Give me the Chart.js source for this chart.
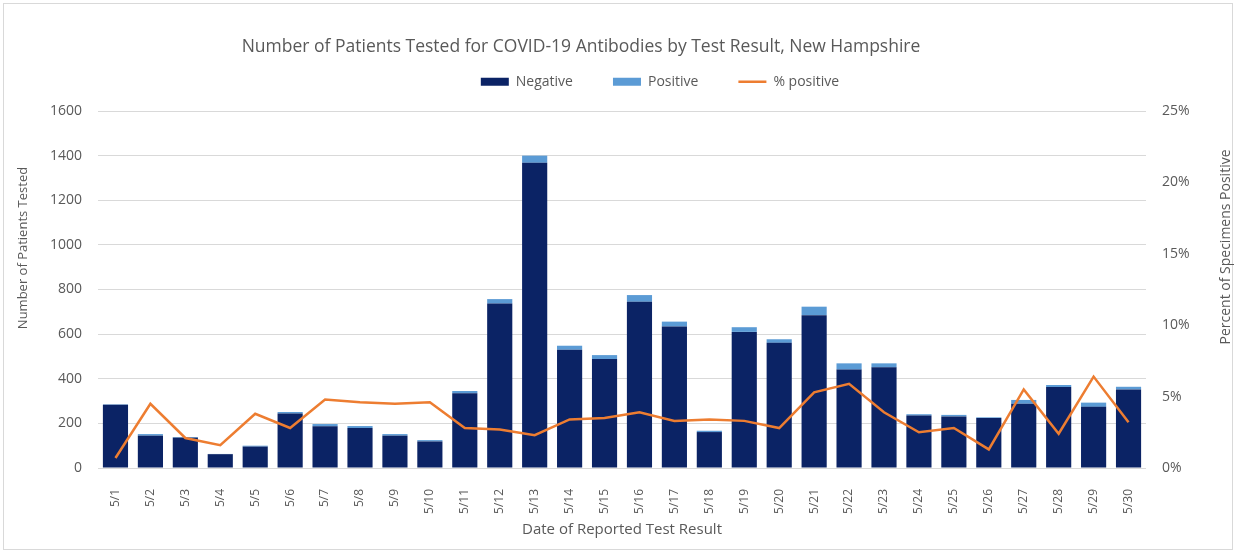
<!DOCTYPE html>
<html><head><meta charset="utf-8">
<script src="https://cdn.jsdelivr.net/npm/chart.js@4.4.1/dist/chart.umd.min.js"></script>
<style>html,body{margin:0;padding:0;background:#fff;} canvas{display:block;}</style>
</head><body>
<canvas id="c" width="1236" height="552"></canvas>
<script>
const categories = ['5/1','5/2','5/3','5/4','5/5','5/6','5/7','5/8','5/9','5/10','5/11','5/12','5/13','5/14','5/15','5/16','5/17','5/18','5/19','5/20','5/21','5/22','5/23','5/24','5/25','5/26','5/27','5/28','5/29','5/30'];
const negativeCounts = [283,145,136,62,96,244,187,179,145,119,335,737,1368,530,488,745,634,161,610,561,685,441,451,235,231,224,288,363,274,352];
const positiveCounts = [2,7,3,1,4,7,10,9,7,6,10,20,32,18,18,30,22,6,21,16,38,28,18,6,7,3,17,9,19,12];
const percentPositive = [0.7,4.5,2.1,1.6,3.8,2.8,4.8,4.6,4.5,4.6,2.8,2.7,2.3,3.4,3.5,3.9,3.3,3.4,3.3,2.8,5.3,5.9,3.9,2.5,2.8,1.3,5.5,2.4,6.4,3.2];

const chartTitle = 'Number of Patients Tested for COVID-19 Antibodies by Test Result, New Hampshire';
const leftAxisTitle = 'Number of Patients Tested';
const rightAxisTitle = 'Percent of Specimens Positive';
const bottomAxisTitle = 'Date of Reported Test Result';

const TEXT = '#595959';
const FONT = "'Open Sans', sans-serif";

const decor = {
  id: 'decor',
  afterLayout(chart) {
    const t = chart.titleBlock;
    if (t) { t.left -= 37; t.right -= 37; }
    const l = chart.legend;
    if (l) { l.top -= 12.3; l.bottom -= 12.3; l.left += 42; l.right += 42; }
  },
  afterDraw(chart) {
    const ctx = chart.ctx;
    ctx.save();
    ctx.strokeStyle = '#d9d9d9';
    ctx.lineWidth = 1;
    ctx.strokeRect(3.5, 3.5, 1229, 546);
    ctx.fillStyle = TEXT;
    ctx.textAlign = 'center';
    ctx.textBaseline = 'middle';
    ctx.save();
    ctx.font = '13px ' + FONT;
    ctx.translate(23, 248);
    ctx.rotate(-Math.PI / 2);
    ctx.fillText(leftAxisTitle, 0, 0);
    ctx.restore();
    ctx.save();
    ctx.font = '14px ' + FONT;
    ctx.translate(1226, 247);
    ctx.rotate(-Math.PI / 2);
    ctx.fillText(rightAxisTitle, 0, 0);
    ctx.restore();
    ctx.restore();
  }
};

new Chart(document.getElementById('c'), {
  data: {
    labels: categories,
    datasets: [
      { type: 'bar', label: 'Negative', data: negativeCounts, backgroundColor: '#0b2365', yAxisID: 'y', stack: 's', order: 1, pointStyle: 'rect', barPercentage: 0.72, categoryPercentage: 1 },
      { type: 'bar', label: 'Positive', data: positiveCounts, backgroundColor: '#5b9bd5', yAxisID: 'y', stack: 's', order: 1, pointStyle: 'rect', barPercentage: 0.72, categoryPercentage: 1 },
      { type: 'line', label: '% positive', data: percentPositive, borderColor: '#ed7d31', backgroundColor: '#ed7d31', borderWidth: 2.5, pointRadius: 0, tension: 0, yAxisID: 'y2', order: 0, pointStyle: 'line' }
    ]
  },
  options: {
    responsive: false,
    devicePixelRatio: 1,
    animation: false,
    layout: { padding: 0 },
    plugins: {
      tooltip: { enabled: false },
      title: { display: true, text: chartTitle, color: TEXT, font: { family: FONT, size: 17.5, weight: 'normal' }, padding: { top: 36.5, bottom: -10.5 } },
      legend: {
        display: true,
        labels: {
          color: TEXT, font: { family: FONT, size: 14 }, usePointStyle: true, pointStyleWidth: 28, boxHeight: 8, padding: 40,
          sort: (a, b) => a.datasetIndex - b.datasetIndex
        }
      }
    },
    scales: {
      x: {
        stacked: true,
        grid: { display: false },
        border: { display: false },
        ticks: { color: TEXT, font: { family: FONT, size: 12 }, autoSkip: false, minRotation: 90, maxRotation: 90, padding: 13 },
        title: { display: true, text: bottomAxisTitle, color: TEXT, font: { family: FONT, size: 15 }, padding: { top: 0, bottom: 13 } },
        afterFit: (s) => { s.height = 84; }
      },
      y: {
        stacked: true,
        position: 'left',
        min: 0, max: 1600,
        grid: { color: '#d9d9d9', drawTicks: false },
        border: { display: false },
        ticks: { stepSize: 200, color: TEXT, font: { family: FONT, size: 14 }, padding: 16, callback: (v) => String(v) },
        afterFit: (s) => { s.width = 98; }
      },
      y2: {
        position: 'right',
        min: 0, max: 25,
        grid: { display: false, drawTicks: false },
        border: { display: false },
        ticks: { stepSize: 5, color: TEXT, font: { family: FONT, size: 14 }, padding: 16, callback: (v) => v + '%' },
        afterFit: (s) => { s.width = 90; }
      }
    }
  },
  plugins: [decor]
});
</script>
</body></html>
